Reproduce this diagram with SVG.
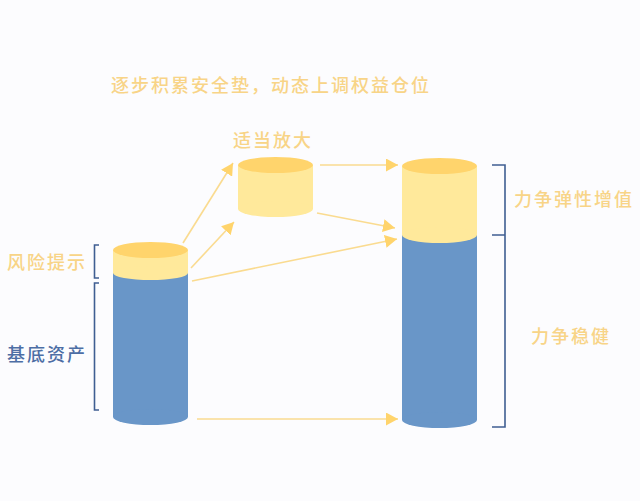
<svg xmlns="http://www.w3.org/2000/svg" width="640" height="501" viewBox="0 0 640 501">
<defs>
<style>
.t{font-family:"Noto Sans CJK SC","Noto Sans",sans-serif;font-size:18px;font-weight:500;letter-spacing:2px}
.o{fill:#F8D487}
.b{fill:#4D6EA5}
.cap{fill:#FFD46C}
.yb{fill:#FFE99B}
.bl{fill:#6996C8}
.br{fill:none;stroke:#3F5E92;stroke-width:1.6}
.ar{fill:none;stroke:#FADB90;stroke-width:1.6;marker-end:url(#ah)}
</style>
<marker id="ah" markerUnits="userSpaceOnUse" markerWidth="13" markerHeight="13" refX="12" refY="6.5" orient="auto">
<path d="M0,0 L12,6.5 L0,13 z" fill="#FFD46C"/>
</marker>
</defs>
<rect width="640" height="501" fill="#FCFCFE"/>
<g id="title"><text class="t o" x="111" y="92">逐步积累安全垫，动态上调权益仓位</text></g>
<g id="left-cylinder">
<rect class="bl" x="113" y="273" width="75" height="144"/>
<ellipse class="bl" cx="150.5" cy="417" rx="37.5" ry="8"/>
<rect class="yb" x="113" y="250" width="75" height="23"/>
<ellipse class="yb" cx="150.5" cy="273" rx="37.5" ry="7"/>
<ellipse class="cap" cx="150.5" cy="250" rx="37.5" ry="8"/>
</g>
<g id="middle-cylinder">
<rect class="yb" x="238" y="165" width="75" height="44"/>
<ellipse class="yb" cx="275.5" cy="209" rx="37.5" ry="8"/>
<ellipse class="cap" cx="275.5" cy="165" rx="37.5" ry="8"/>
<text class="t o" x="233" y="146.5">适当放大</text>
</g>
<g id="right-cylinder">
<rect class="bl" x="402" y="235" width="75" height="185"/>
<ellipse class="bl" cx="439.5" cy="420" rx="37.5" ry="8"/>
<rect class="yb" x="402" y="166" width="75" height="69"/>
<ellipse class="yb" cx="439.5" cy="235" rx="37.5" ry="8"/>
<ellipse class="cap" cx="439.5" cy="166" rx="37.5" ry="8"/>
</g>
<g id="label-risk">
<path class="br" d="M99,245 H94.5 V278 H99"/>
<text class="t o" x="7" y="269">风险提示</text>
</g>
<g id="label-base">
<path class="br" d="M99,283 H94.5 V410 H99"/>
<text class="t b" x="7" y="360.5">基底资产</text>
</g>
<g id="label-growth">
<path class="br" d="M492,165 H505 V427 H492 M492,235 H505"/>
<text class="t o" x="514" y="205.5">力争弹性增值</text>
</g>
<g id="label-stable">
<text class="t o" x="531" y="342.5">力争稳健</text>
</g>
<g id="connectors">
<line class="ar" x1="183" y1="243" x2="233" y2="163"/>
<line class="ar" x1="191" y1="268" x2="234" y2="222"/>
<line class="ar" x1="192" y1="281" x2="397" y2="239"/>
<line class="ar" x1="320" y1="165" x2="398" y2="165"/>
<line class="ar" x1="317" y1="213" x2="395" y2="228"/>
<line class="ar" x1="197" y1="419" x2="398" y2="419"/>
</g>
</svg>
